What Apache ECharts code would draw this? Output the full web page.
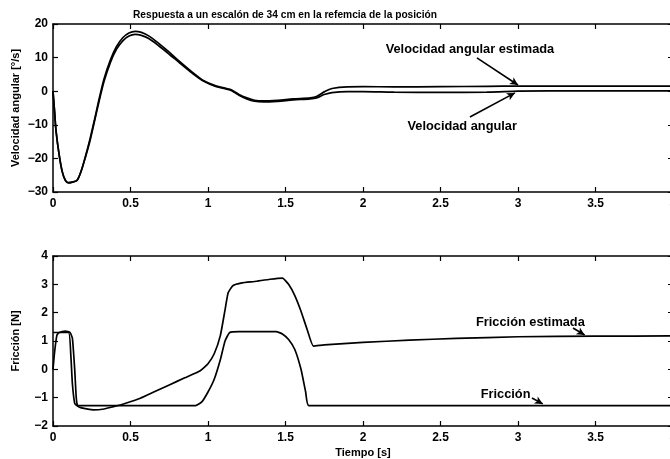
<!DOCTYPE html>
<html><head><meta charset="utf-8">
<script src="https://cdn.jsdelivr.net/npm/echarts@6/dist/echarts.min.js"></script>
<style>html,body{margin:0;padding:0;background:#fff}#c{width:670px;height:459px}</style>
</head><body><div id="c"></div>
<script>
// ---- data ----
const titleText = 'Respuesta a un escalón de 34 cm en la refemcia de la posición';
const velName = 'Velocidad angular';
const velEstName = 'Velocidad angular estimada';
const fricName = 'Fricción';
const fricEstName = 'Fricción estimada';

const velT = [0,0.01,0.02,0.04,0.06,0.08,0.1,0.13,0.155,0.18,0.21,0.24,0.27,0.30,0.33,0.37,0.41,0.45,0.49,0.53,0.57,0.62,0.68,0.75,0.82,0.9,0.97,1.05,1.12,1.15,1.2,1.25,1.3,1.36,1.45,1.55,1.66,1.7,1.75,1.8,1.9,2.0,2.2,2.5,2.8,3.0,3.2,4.0];
const velActual = [0,-6,-12,-19,-24,-26.5,-27.2,-27,-26.5,-24,-19.5,-14.5,-8.5,-2.5,3,8.5,12.5,15,16.4,16.9,16.6,15.6,13.6,11,8.3,5.3,3,1.4,0.6,0.2,-1.2,-2.3,-3,-3.2,-3,-2.6,-2.3,-2,-1,-0.4,-0.1,-0.1,-0.3,-0.35,-0.3,0,0.1,0.1];
const velEst = [0,-6,-12,-19,-24,-26.6,-27.3,-27,-26.6,-24,-19.3,-14,-8,-1.8,3.8,9.3,13.3,15.9,17.3,17.8,17.5,16.4,14.3,11.6,8.7,5.6,3.2,1.6,0.8,0.4,-1.0,-2.0,-2.7,-2.9,-2.7,-2.3,-2.0,-1.6,-0.2,0.8,1.3,1.35,1.3,1.35,1.45,1.5,1.5,1.5];

const fricT = [0,0.1,0.115,0.125,0.14,0.155,0.5,0.92,0.96,1.0,1.04,1.08,1.11,1.14,1.2,1.44,1.48,1.52,1.56,1.6,1.63,1.65,4.0];
const fricActual = [1.3,1.3,0.5,-0.5,-1.2,-1.28,-1.28,-1.28,-1.15,-0.8,-0.35,0.35,1.0,1.3,1.33,1.33,1.25,1.05,0.7,0.0,-0.8,-1.28,-1.28];
const fricEstT = [0,0.01,0.025,0.04,0.08,0.11,0.125,0.14,0.15,0.16,0.2,0.26,0.33,0.38,0.44,0.55,0.65,0.75,0.85,0.95,1.0,1.04,1.08,1.11,1.13,1.16,1.22,1.3,1.4,1.48,1.52,1.56,1.6,1.64,1.68,1.75,2.0,2.3,2.6,3.0,3.5,4.0];
const fricEst = [0,0.6,1.2,1.3,1.35,1.3,1.1,0,-1.0,-1.3,-1.38,-1.43,-1.4,-1.33,-1.25,-1.05,-0.8,-0.55,-0.3,-0.05,0.2,0.55,1.2,2.1,2.7,2.95,3.05,3.1,3.18,3.22,3.0,2.6,2.05,1.4,0.82,0.86,0.95,1.03,1.09,1.15,1.17,1.18];

// annotation anchors in data units: [textX, textY, arrowFromX, arrowFromY, arrowToX, arrowToY]
const annVelEst = [2.69, 12.3, 2.735, 9.9, 3.0, 1.85];
const annVel = [2.64, -10.4, 2.69, -7.7, 2.98, -0.5];
const annFricEst = [3.08, 1.64, 3.355, 1.46, 3.43, 1.21];
const annFric = [2.92, -0.87, 3.09, -1.01, 3.16, -1.22];

// ---- chart ----
const FONT = 'Liberation Sans';
const pairs = (t, v) => t.map((x, i) => [x, v[i]]);
const fmt = v => String(v).replace('-', '\u2212');
const chart = echarts.init(document.getElementById('c'));

function xAx(grid, pos, showLabel, name) {
  return {
    type: 'value', gridIndex: grid, position: pos, min: 0, max: 4, interval: 0.5,
    axisLine: {show: true, onZero: false, lineStyle: {color: '#000', width: 1.5}},
    axisTick: {show: true, inside: true, length: 5, lineStyle: {color: '#000', width: 1.2}},
    axisLabel: {show: showLabel, color: '#000', fontFamily: FONT, fontWeight: 'bold', fontSize: 12, margin: 6, formatter: fmt},
    splitLine: {show: false},
    name: name || '', nameLocation: 'middle', nameGap: 21, nameMoveOverlap: false,
    nameTextStyle: {color: '#000', fontFamily: FONT, fontWeight: 'bold', fontSize: 11}
  };
}
function yAx(grid, pos, min, max, interval, showLabel, name) {
  return {
    type: 'value', gridIndex: grid, position: pos, min, max, interval,
    axisLine: {show: true, onZero: false, lineStyle: {color: '#000', width: 1.5}},
    axisTick: {show: true, inside: true, length: 5, lineStyle: {color: '#000', width: 1.2}},
    axisLabel: {show: showLabel, color: '#000', fontFamily: FONT, fontWeight: 'bold', fontSize: 12, margin: 5, formatter: fmt},
    splitLine: {show: false},
    name: name || '', nameLocation: 'middle', nameGap: 32, nameRotate: 90, nameMoveOverlap: false,
    nameTextStyle: {color: '#000', fontFamily: FONT, fontWeight: 'bold', fontSize: 11}
  };
}
function arrow(a) {
  return {
    silent: true, symbol: ['none', 'arrow'], symbolSize: [6, 8],
    lineStyle: {color: '#000', width: 1.6, type: 'solid'}, label: {show: false},
    data: [[{coord: [a[2], a[3]]}, {coord: [a[4], a[5]]}]]
  };
}
const lineStyle = {color: '#000', width: 1.7};

chart.setOption({
  animation: false,
  backgroundColor: '#fff',
  title: {text: titleText, left: 128, top: 5,
    textStyle: {fontFamily: FONT, fontWeight: 'bold', fontSize: 10.2, color: '#000'}},
  grid: [
    {left: 53, width: 620, top: 24, height: 168, outerBoundsMode: 'none', containLabel: false},
    {left: 53, width: 620, top: 256, height: 170, outerBoundsMode: 'none', containLabel: false}
  ],
  xAxis: [xAx(0, 'bottom', true), xAx(0, 'top', false), xAx(1, 'bottom', true, 'Tiempo [s]'), xAx(1, 'top', false)],
  yAxis: [yAx(0, 'left', -30, 20, 10, true, 'Velocidad angular [°/s]'), yAx(0, 'right', -30, 20, 10, false),
          yAx(1, 'left', -2, 4, 1, true, 'Fricción [N]'), yAx(1, 'right', -2, 4, 1, false)],
  series: [
    {name: velName, type: 'line', xAxisIndex: 0, yAxisIndex: 0, data: pairs(velT, velActual), smooth: 0.3,
      showSymbol: false, lineStyle, markLine: arrow(annVel)},
    {name: velEstName, type: 'line', xAxisIndex: 0, yAxisIndex: 0, data: pairs(velT, velEst), smooth: 0.3,
      showSymbol: false, lineStyle, markLine: arrow(annVelEst)},
    {name: fricName, type: 'line', xAxisIndex: 2, yAxisIndex: 2, data: pairs(fricT, fricActual), smooth: 0.15,
      showSymbol: false, lineStyle, markLine: arrow(annFric)},
    {name: fricEstName, type: 'line', xAxisIndex: 2, yAxisIndex: 2, data: pairs(fricEstT, fricEst), smooth: 0.15,
      showSymbol: false, lineStyle, markLine: arrow(annFricEst)}
  ]
});

function label(text, a, grid) {
  const p = chart.convertToPixel({xAxisIndex: grid * 2, yAxisIndex: grid * 2}, [a[0], a[1]]);
  return {type: 'text', x: p[0], y: p[1], style: {text, fill: '#000', font: 'bold 12.8px "Liberation Sans"', align: 'center', verticalAlign: 'middle'}};
}
chart.setOption({graphic: [
  label(velEstName, annVelEst, 0), label(velName, annVel, 0),
  label(fricEstName, annFricEst, 1), label(fricName, annFric, 1)
]});
</script></body></html>
